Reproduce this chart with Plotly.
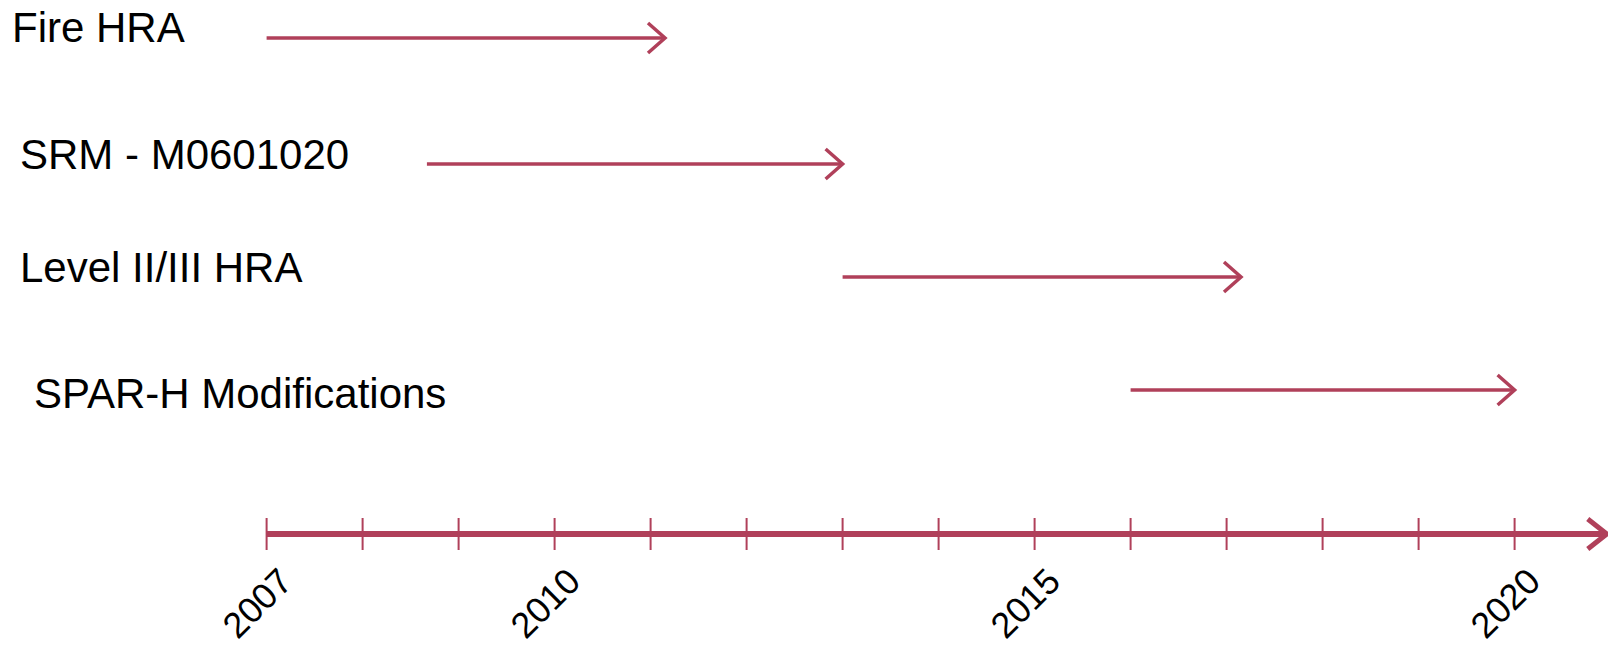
import plotly.graph_objects as go

# ---- data ----
activities = ["Fire HRA", "SRM - M0601020", "Level II/III HRA", "SPAR-H Modifications"]
start_year = [2007.0, 2008.67, 2013.0, 2016.0]
end_year = [2011.15, 2013.0, 2017.15, 2020.0]
tick_years = list(range(2007, 2021))
label_years = [2007, 2010, 2015, 2020]
axis_start = 2007.0
axis_end = 2020.96

# ---- layout / style ----
W, H = 1608, 648
COLOR = "#B0405A"
FONT = "Liberation Sans, Arial, sans-serif"
px_per_year = 96.0
x0_year = 2007 - 266.6 / px_per_year
x1_year = x0_year + W / px_per_year
row_y = [38, 164, 277, 390]          # pixel rows of arrows
label_y = [27, 154, 267, 393]        # pixel rows of labels
label_x = [10, 18, 18, 32]           # left edge of labels (px)
axis_y = 534
tick_half = 16

fig = go.Figure()

def chevron(x_end, y, back_px, half_px, width):
    dx = back_px / px_per_year
    fig.add_trace(go.Scatter(
        x=[x_end - dx, x_end, x_end - dx], y=[y - half_px, y, y + half_px],
        mode="lines", line=dict(color=COLOR, width=width),
        hoverinfo="skip", showlegend=False))

# activity arrows
for name, s, e, y in zip(activities, start_year, end_year, row_y):
    fig.add_trace(go.Scatter(
        x=[s, e], y=[y, y], mode="lines",
        line=dict(color=COLOR, width=3.5), name=name,
        hoverinfo="skip", showlegend=False))
    chevron(e, y, 17, 15, 3.5)

# timeline axis
fig.add_trace(go.Scatter(
    x=[axis_start, axis_end], y=[axis_y, axis_y], mode="lines",
    line=dict(color=COLOR, width=6), hoverinfo="skip", showlegend=False))
chevron(axis_end, axis_y, 19, 15, 5)

# ticks
for t in tick_years:
    fig.add_trace(go.Scatter(
        x=[t, t], y=[axis_y - tick_half, axis_y + tick_half], mode="lines",
        line=dict(color=COLOR, width=2), hoverinfo="skip", showlegend=False))

annotations = []
for name, x, y in zip(activities, label_x, label_y):
    annotations.append(dict(
        text=name, x=x / W, y=y, xref="paper", yref="y",
        xanchor="left", yanchor="middle", showarrow=False,
        font=dict(family=FONT, size=42, color="black")))

for yr in label_years:
    annotations.append(dict(
        text=str(yr), x=yr, y=603, xref="x", yref="y",
        xshift=-10, textangle=-45, showarrow=False,
        xanchor="center", yanchor="middle",
        font=dict(family=FONT, size=36, color="black")))

fig.update_layout(
    width=W, height=H, margin=dict(l=0, r=0, t=0, b=0),
    paper_bgcolor="white", plot_bgcolor="white",
    xaxis=dict(range=[x0_year, x1_year], visible=False, fixedrange=True),
    yaxis=dict(range=[H, 0], visible=False, fixedrange=True),
    annotations=annotations, showlegend=False,
)

fig.write_html("out.html")
